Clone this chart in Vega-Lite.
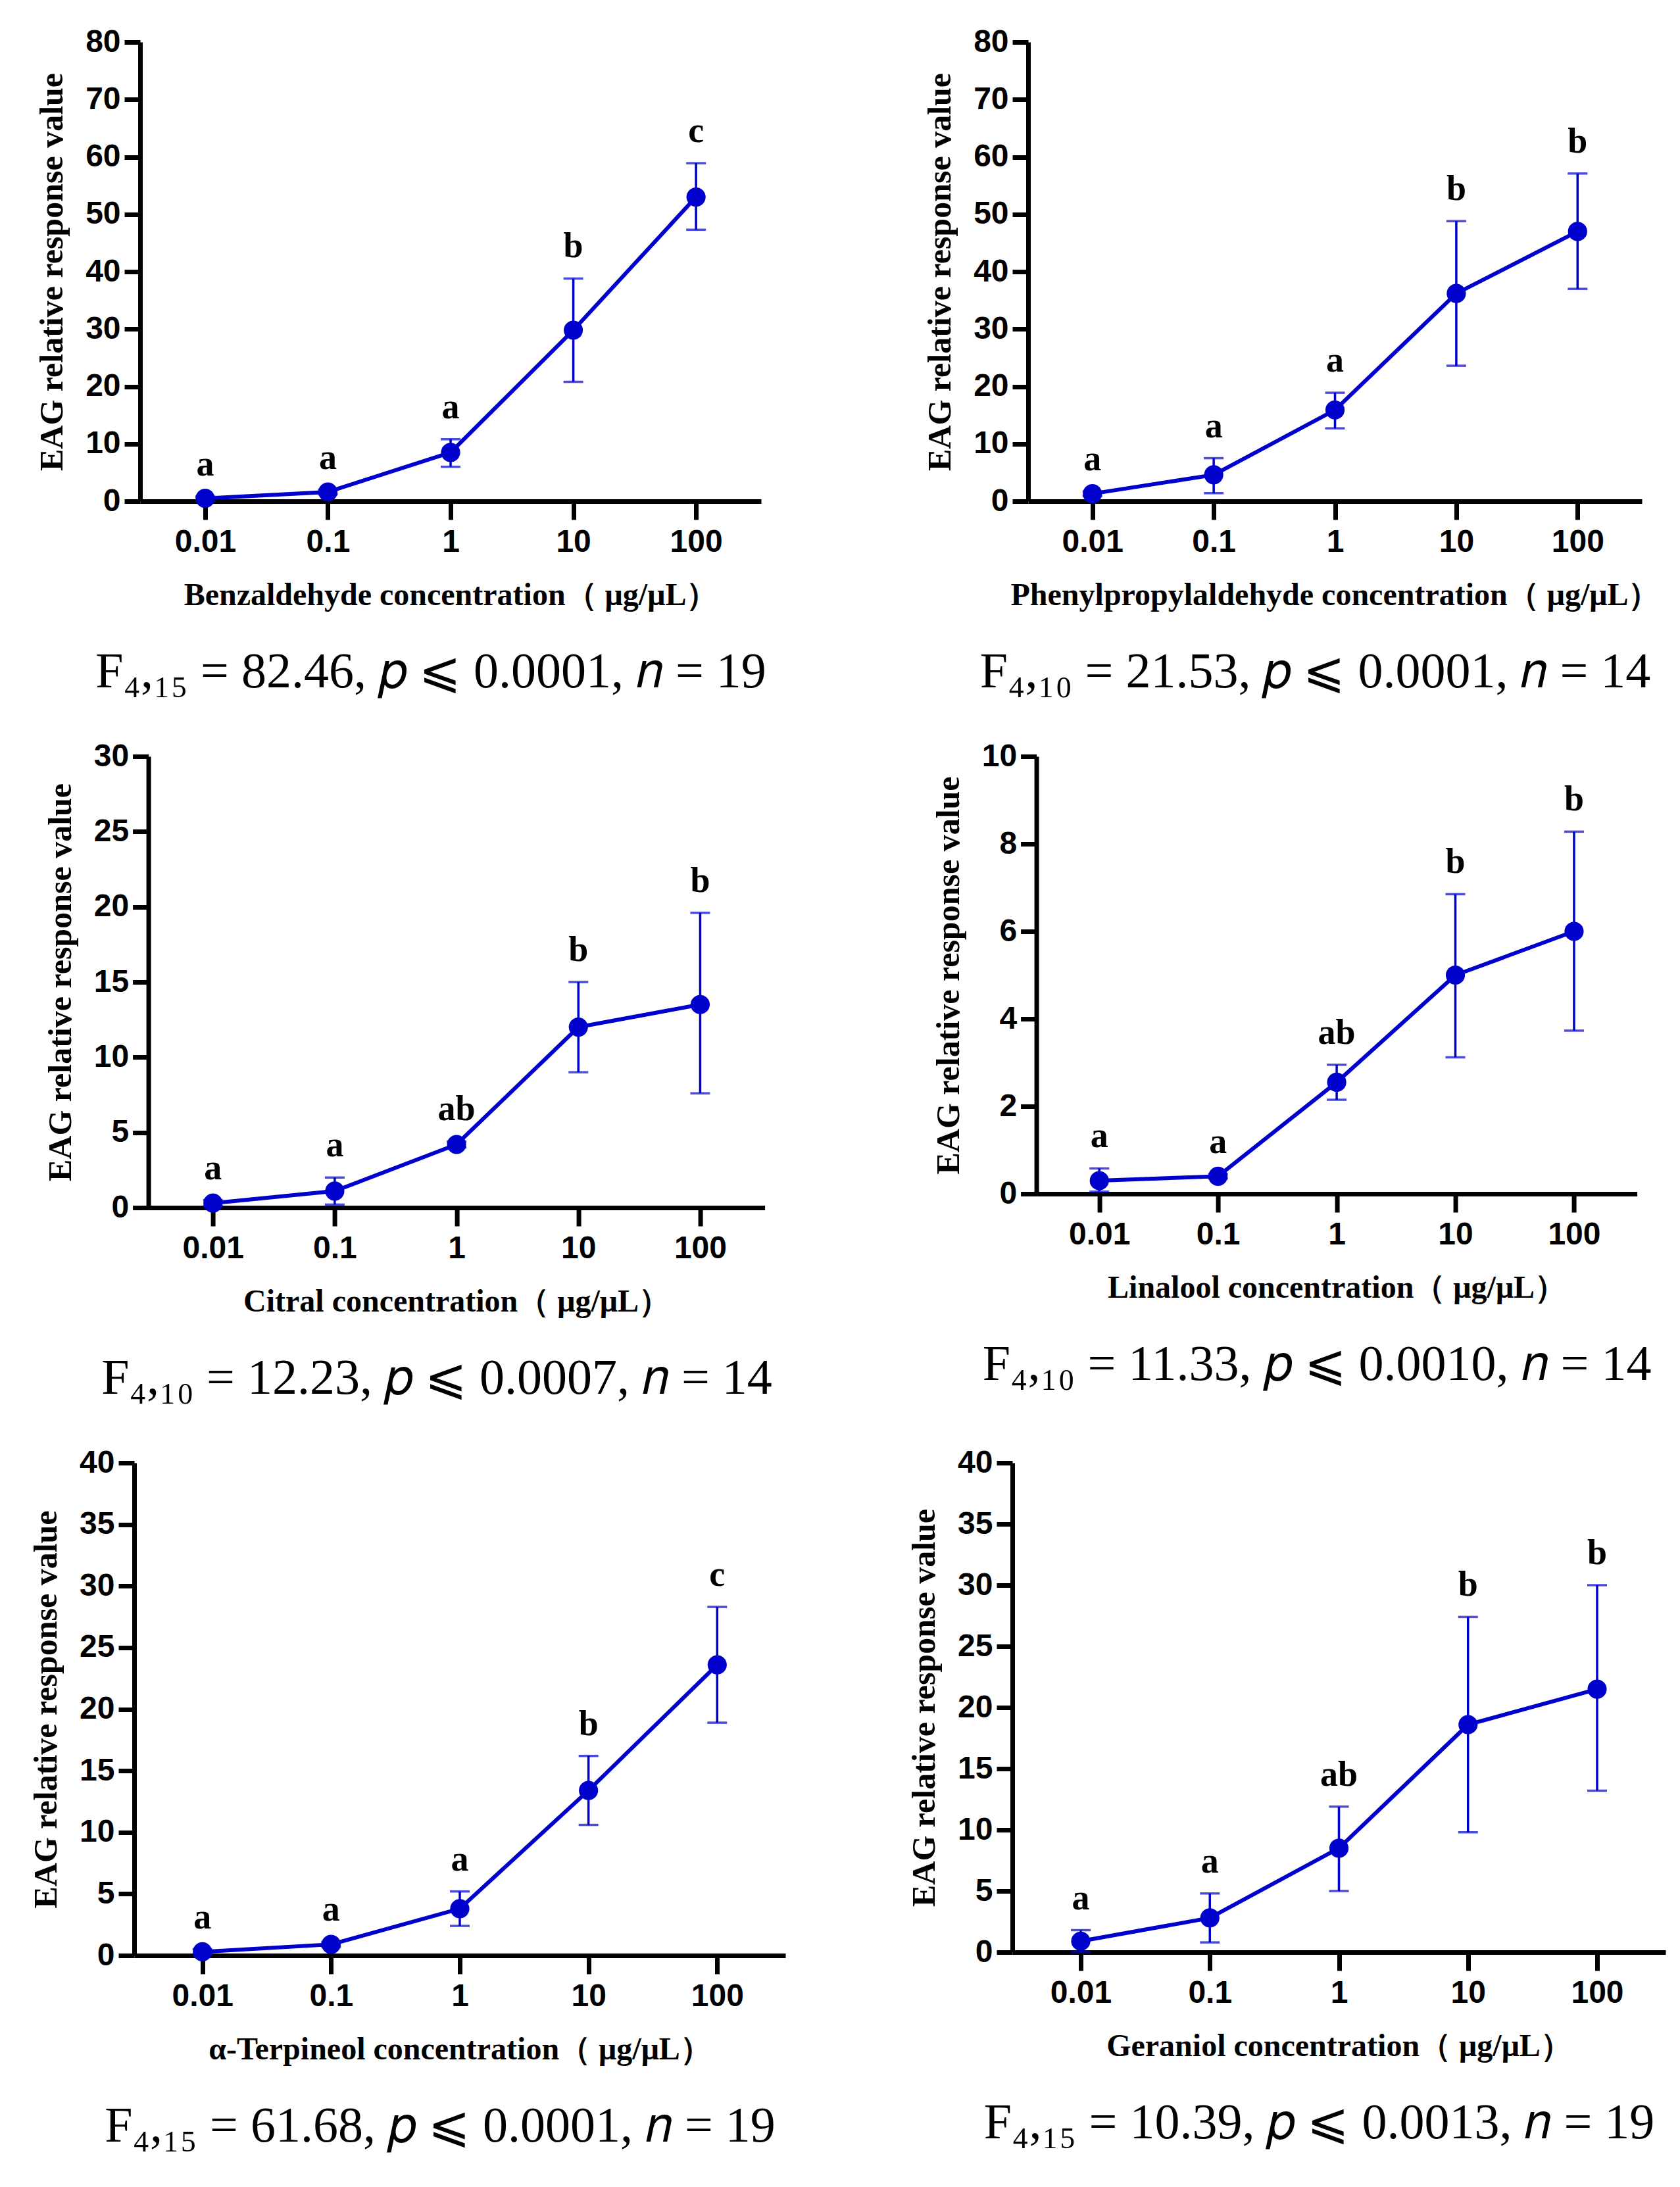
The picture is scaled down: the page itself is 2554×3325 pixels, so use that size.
{
  "$schema": "https://vega.github.io/schema/vega-lite/v6.json",
  "background": "white",
  "padding": {"left": 45, "top": 40, "right": 10, "bottom": 10},
  "center": true,
  "spacing": 66,
  "datasets": {
    "p1": [
      {"conc": "0.01", "mean": 0.5, "lo": 0.2, "hi": 0.8, "letter": "a"},
      {"conc": "0.1", "mean": 1.6, "lo": 1.2, "hi": 2.0, "letter": "a"},
      {"conc": "1", "mean": 8.5, "lo": 6.0, "hi": 10.8, "letter": "a"},
      {"conc": "10", "mean": 29.8, "lo": 20.8, "hi": 38.8, "letter": "b"},
      {"conc": "100", "mean": 53.0, "lo": 47.3, "hi": 58.9, "letter": "c"}
    ],
    "p2": [
      {"conc": "0.01", "mean": 1.3, "lo": 0.9, "hi": 1.7, "letter": "a"},
      {"conc": "0.1", "mean": 4.6, "lo": 1.4, "hi": 7.5, "letter": "a"},
      {"conc": "1", "mean": 15.9, "lo": 12.7, "hi": 18.9, "letter": "a"},
      {"conc": "10", "mean": 36.2, "lo": 23.6, "hi": 48.8, "letter": "b"},
      {"conc": "100", "mean": 47.0, "lo": 37.0, "hi": 57.1, "letter": "b"}
    ],
    "p3": [
      {"conc": "0.01", "mean": 0.3, "lo": 0.1, "hi": 0.5, "letter": "a"},
      {"conc": "0.1", "mean": 1.1, "lo": 0.2, "hi": 2.0, "letter": "a"},
      {"conc": "1", "mean": 4.2, "lo": 4.0, "hi": 4.4, "letter": "ab"},
      {"conc": "10", "mean": 12.0, "lo": 9.0, "hi": 15.0, "letter": "b"},
      {"conc": "100", "mean": 13.5, "lo": 7.6, "hi": 19.6, "letter": "b"}
    ],
    "p4": [
      {"conc": "0.01", "mean": 0.3, "lo": 0.05, "hi": 0.58, "letter": "a"},
      {"conc": "0.1", "mean": 0.4, "lo": 0.35, "hi": 0.45, "letter": "a"},
      {"conc": "1", "mean": 2.55, "lo": 2.15, "hi": 2.95, "letter": "ab"},
      {"conc": "10", "mean": 5.0, "lo": 3.12, "hi": 6.85, "letter": "b"},
      {"conc": "100", "mean": 6.0, "lo": 3.73, "hi": 8.28, "letter": "b"}
    ],
    "p5": [
      {"conc": "0.01", "mean": 0.3, "lo": 0.1, "hi": 0.5, "letter": "a"},
      {"conc": "0.1", "mean": 0.9, "lo": 0.7, "hi": 1.1, "letter": "a"},
      {"conc": "1", "mean": 3.8, "lo": 2.4, "hi": 5.2, "letter": "a"},
      {"conc": "10", "mean": 13.4, "lo": 10.6, "hi": 16.2, "letter": "b"},
      {"conc": "100", "mean": 23.6, "lo": 18.9, "hi": 28.3, "letter": "c"}
    ],
    "p6": [
      {"conc": "0.01", "mean": 0.9, "lo": 0.0, "hi": 1.8, "letter": "a"},
      {"conc": "0.1", "mean": 2.8, "lo": 0.8, "hi": 4.8, "letter": "a"},
      {"conc": "1", "mean": 8.5, "lo": 5.0, "hi": 11.9, "letter": "ab"},
      {"conc": "10", "mean": 18.6, "lo": 9.8, "hi": 27.4, "letter": "b"},
      {"conc": "100", "mean": 21.5, "lo": 13.2, "hi": 30.0, "letter": "b"}
    ]
  },
  "vconcat": [
    {
      "spacing": 406,
      "bounds": "flush",
      "hconcat": [
        {
          "width": 944, "height": 698,
          "data": {"name": "p1"},
          "title": {"text": "F₄,₁₅ = 82.46, 𝑝 ⩽ 0.0001, 𝑛 = 19"},
          "encoding": {"x": {"field": "conc", "type": "ordinal", "sort": null, "scale": {"type": "point", "padding": 0.53}, "title": "Benzaldehyde concentration（ μg/μL）"}},
          "layer": [
            {"mark": {"type": "rule", "color": "#0000CC", "strokeWidth": 3.5}, "encoding": {"y": {"field": "lo", "type": "quantitative", "title": "EAG relative response value", "scale": {"domain": [0, 80], "nice": false}, "axis": {"values": [0, 10, 20, 30, 40, 50, 60, 70, 80], "format": "d"}}, "y2": {"field": "hi"}}},
            {"mark": {"type": "tick", "color": "#0000CC", "thickness": 3.5, "size": 30}, "encoding": {"y": {"field": "lo", "type": "quantitative", "title": "EAG relative response value"}}},
            {"mark": {"type": "tick", "color": "#0000CC", "thickness": 3.5, "size": 30}, "encoding": {"y": {"field": "hi", "type": "quantitative", "title": "EAG relative response value"}}},
            {"mark": {"type": "line", "color": "#0000CC", "strokeWidth": 6}, "encoding": {"y": {"field": "mean", "type": "quantitative", "title": "EAG relative response value"}}},
            {"mark": {"type": "circle", "color": "#0000CC", "size": 850, "opacity": 1}, "encoding": {"y": {"field": "mean", "type": "quantitative", "title": "EAG relative response value"}}},
            {"mark": {"type": "text", "dy": -48, "baseline": "middle", "font": "Liberation Serif", "fontWeight": "bold", "fontSize": 54, "color": "black"}, "encoding": {"y": {"field": "hi", "type": "quantitative", "title": "EAG relative response value"}, "text": {"field": "letter"}}}
          ]
        },
        {
          "width": 933, "height": 698,
          "data": {"name": "p2"},
          "title": {"text": "F₄,₁₀ = 21.53, 𝑝 ⩽ 0.0001, 𝑛 = 14"},
          "encoding": {"x": {"field": "conc", "type": "ordinal", "sort": null, "scale": {"type": "point", "padding": 0.53}, "title": "Phenylpropylaldehyde concentration（ μg/μL）"}},
          "layer": [
            {"mark": {"type": "rule", "color": "#0000CC", "strokeWidth": 3.5}, "encoding": {"y": {"field": "lo", "type": "quantitative", "title": "EAG relative response value", "scale": {"domain": [0, 80], "nice": false}, "axis": {"values": [0, 10, 20, 30, 40, 50, 60, 70, 80], "format": "d"}}, "y2": {"field": "hi"}}},
            {"mark": {"type": "tick", "color": "#0000CC", "thickness": 3.5, "size": 30}, "encoding": {"y": {"field": "lo", "type": "quantitative", "title": "EAG relative response value"}}},
            {"mark": {"type": "tick", "color": "#0000CC", "thickness": 3.5, "size": 30}, "encoding": {"y": {"field": "hi", "type": "quantitative", "title": "EAG relative response value"}}},
            {"mark": {"type": "line", "color": "#0000CC", "strokeWidth": 6}, "encoding": {"y": {"field": "mean", "type": "quantitative", "title": "EAG relative response value"}}},
            {"mark": {"type": "circle", "color": "#0000CC", "size": 850, "opacity": 1}, "encoding": {"y": {"field": "mean", "type": "quantitative", "title": "EAG relative response value"}}},
            {"mark": {"type": "text", "dy": -48, "baseline": "middle", "font": "Liberation Serif", "fontWeight": "bold", "fontSize": 54, "color": "black"}, "encoding": {"y": {"field": "hi", "type": "quantitative", "title": "EAG relative response value"}, "text": {"field": "letter"}}}
          ]
        }
      ]
    },
    {
      "spacing": 413,
      "bounds": "flush",
      "hconcat": [
        {
          "width": 937, "height": 686,
          "data": {"name": "p3"},
          "title": {"text": "F₄,₁₀ = 12.23, 𝑝 ⩽ 0.0007, 𝑛 = 14"},
          "encoding": {"x": {"field": "conc", "type": "ordinal", "sort": null, "scale": {"type": "point", "padding": 0.53}, "title": "Citral concentration（ μg/μL）"}},
          "layer": [
            {"mark": {"type": "rule", "color": "#0000CC", "strokeWidth": 3.5}, "encoding": {"y": {"field": "lo", "type": "quantitative", "title": "EAG relative response value", "scale": {"domain": [0, 30], "nice": false}, "axis": {"values": [0, 5, 10, 15, 20, 25, 30], "format": "d"}}, "y2": {"field": "hi"}}},
            {"mark": {"type": "tick", "color": "#0000CC", "thickness": 3.5, "size": 30}, "encoding": {"y": {"field": "lo", "type": "quantitative", "title": "EAG relative response value"}}},
            {"mark": {"type": "tick", "color": "#0000CC", "thickness": 3.5, "size": 30}, "encoding": {"y": {"field": "hi", "type": "quantitative", "title": "EAG relative response value"}}},
            {"mark": {"type": "line", "color": "#0000CC", "strokeWidth": 6}, "encoding": {"y": {"field": "mean", "type": "quantitative", "title": "EAG relative response value"}}},
            {"mark": {"type": "circle", "color": "#0000CC", "size": 850, "opacity": 1}, "encoding": {"y": {"field": "mean", "type": "quantitative", "title": "EAG relative response value"}}},
            {"mark": {"type": "text", "dy": -48, "baseline": "middle", "font": "Liberation Serif", "fontWeight": "bold", "fontSize": 54, "color": "black"}, "encoding": {"y": {"field": "hi", "type": "quantitative", "title": "EAG relative response value"}, "text": {"field": "letter"}}}
          ]
        },
        {
          "width": 913, "height": 665,
          "data": {"name": "p4"},
          "title": {"text": "F₄,₁₀ = 11.33, 𝑝 ⩽ 0.0010, 𝑛 = 14"},
          "encoding": {"x": {"field": "conc", "type": "ordinal", "sort": null, "scale": {"type": "point", "padding": 0.53}, "title": "Linalool concentration（ μg/μL）"}},
          "layer": [
            {"mark": {"type": "rule", "color": "#0000CC", "strokeWidth": 3.5}, "encoding": {"y": {"field": "lo", "type": "quantitative", "title": "EAG relative response value", "scale": {"domain": [0, 10], "nice": false}, "axis": {"values": [0, 2, 4, 6, 8, 10], "format": "d"}}, "y2": {"field": "hi"}}},
            {"mark": {"type": "tick", "color": "#0000CC", "thickness": 3.5, "size": 30}, "encoding": {"y": {"field": "lo", "type": "quantitative", "title": "EAG relative response value"}}},
            {"mark": {"type": "tick", "color": "#0000CC", "thickness": 3.5, "size": 30}, "encoding": {"y": {"field": "hi", "type": "quantitative", "title": "EAG relative response value"}}},
            {"mark": {"type": "line", "color": "#0000CC", "strokeWidth": 6}, "encoding": {"y": {"field": "mean", "type": "quantitative", "title": "EAG relative response value"}}},
            {"mark": {"type": "circle", "color": "#0000CC", "size": 850, "opacity": 1}, "encoding": {"y": {"field": "mean", "type": "quantitative", "title": "EAG relative response value"}}},
            {"mark": {"type": "text", "dy": -48, "baseline": "middle", "font": "Liberation Serif", "fontWeight": "bold", "fontSize": 54, "color": "black"}, "encoding": {"y": {"field": "hi", "type": "quantitative", "title": "EAG relative response value"}, "text": {"field": "letter"}}}
          ]
        }
      ]
    },
    {
      "spacing": 345,
      "bounds": "flush",
      "hconcat": [
        {
          "width": 990, "height": 749,
          "data": {"name": "p5"},
          "title": {"text": "F₄,₁₅ = 61.68, 𝑝 ⩽ 0.0001, 𝑛 = 19"},
          "encoding": {"x": {"field": "conc", "type": "ordinal", "sort": null, "scale": {"type": "point", "padding": 0.53}, "title": "α-Terpineol concentration（ μg/μL）"}},
          "layer": [
            {"mark": {"type": "rule", "color": "#0000CC", "strokeWidth": 3.5}, "encoding": {"y": {"field": "lo", "type": "quantitative", "title": "EAG relative response value", "scale": {"domain": [0, 40], "nice": false}, "axis": {"values": [0, 5, 10, 15, 20, 25, 30, 35, 40], "format": "d"}}, "y2": {"field": "hi"}}},
            {"mark": {"type": "tick", "color": "#0000CC", "thickness": 3.5, "size": 30}, "encoding": {"y": {"field": "lo", "type": "quantitative", "title": "EAG relative response value"}}},
            {"mark": {"type": "tick", "color": "#0000CC", "thickness": 3.5, "size": 30}, "encoding": {"y": {"field": "hi", "type": "quantitative", "title": "EAG relative response value"}}},
            {"mark": {"type": "line", "color": "#0000CC", "strokeWidth": 6}, "encoding": {"y": {"field": "mean", "type": "quantitative", "title": "EAG relative response value"}}},
            {"mark": {"type": "circle", "color": "#0000CC", "size": 850, "opacity": 1}, "encoding": {"y": {"field": "mean", "type": "quantitative", "title": "EAG relative response value"}}},
            {"mark": {"type": "text", "dy": -48, "baseline": "middle", "font": "Liberation Serif", "fontWeight": "bold", "fontSize": 54, "color": "black"}, "encoding": {"y": {"field": "hi", "type": "quantitative", "title": "EAG relative response value"}, "text": {"field": "letter"}}}
          ]
        },
        {
          "width": 993, "height": 744,
          "data": {"name": "p6"},
          "title": {"text": "F₄,₁₅ = 10.39, 𝑝 ⩽ 0.0013, 𝑛 = 19"},
          "encoding": {"x": {"field": "conc", "type": "ordinal", "sort": null, "scale": {"type": "point", "padding": 0.53}, "title": "Geraniol concentration（ μg/μL）"}},
          "layer": [
            {"mark": {"type": "rule", "color": "#0000CC", "strokeWidth": 3.5}, "encoding": {"y": {"field": "lo", "type": "quantitative", "title": "EAG relative response value", "scale": {"domain": [0, 40], "nice": false}, "axis": {"values": [0, 5, 10, 15, 20, 25, 30, 35, 40], "format": "d"}}, "y2": {"field": "hi"}}},
            {"mark": {"type": "tick", "color": "#0000CC", "thickness": 3.5, "size": 30}, "encoding": {"y": {"field": "lo", "type": "quantitative", "title": "EAG relative response value"}}},
            {"mark": {"type": "tick", "color": "#0000CC", "thickness": 3.5, "size": 30}, "encoding": {"y": {"field": "hi", "type": "quantitative", "title": "EAG relative response value"}}},
            {"mark": {"type": "line", "color": "#0000CC", "strokeWidth": 6}, "encoding": {"y": {"field": "mean", "type": "quantitative", "title": "EAG relative response value"}}},
            {"mark": {"type": "circle", "color": "#0000CC", "size": 850, "opacity": 1}, "encoding": {"y": {"field": "mean", "type": "quantitative", "title": "EAG relative response value"}}},
            {"mark": {"type": "text", "dy": -48, "baseline": "middle", "font": "Liberation Serif", "fontWeight": "bold", "fontSize": 54, "color": "black"}, "encoding": {"y": {"field": "hi", "type": "quantitative", "title": "EAG relative response value"}, "text": {"field": "letter"}}}
          ]
        }
      ]
    }
  ],
  "config": {
    "view": {"stroke": null},
    "title": {"orient": "bottom", "anchor": "middle", "frame": "group", "dx": -30, "offset": 56, "font": "Liberation Serif", "fontWeight": "normal", "fontSize": 76, "color": "black"},
    "axis": {"grid": false, "domainColor": "black", "domainWidth": 7, "tickColor": "black", "tickWidth": 7, "tickSize": 24, "labelFont": "Liberation Sans", "labelFontWeight": "bold", "labelFontSize": 48, "labelColor": "black", "titleFont": "Liberation Serif", "titleFontWeight": "bold", "titleFontSize": 48, "titleColor": "black"},
    "axisX": {"labelAngle": 0, "labelPadding": 10, "titlePadding": 33, "tickSize": 28},
    "axisY": {"labelPadding": 6, "titlePadding": 25, "titleFontSize": 50}
  }
}
